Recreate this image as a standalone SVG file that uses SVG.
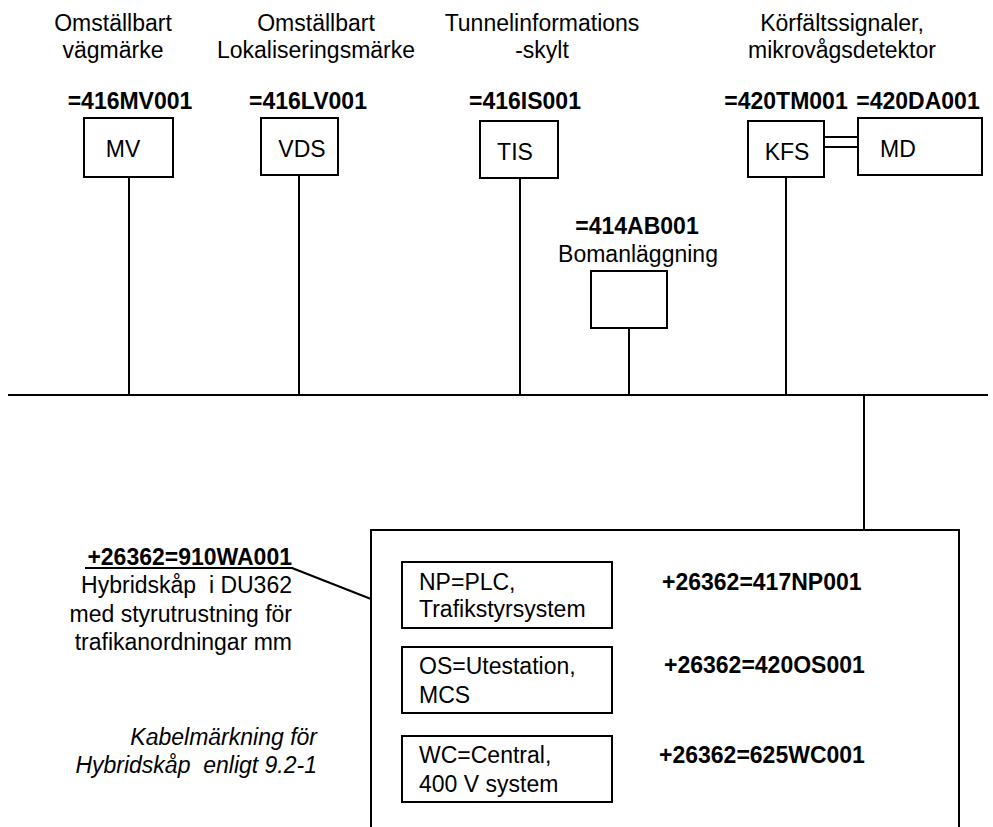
<svg xmlns="http://www.w3.org/2000/svg" width="993" height="827" viewBox="0 0 993 827">
<style>
text{font-family:"Liberation Sans",Arial,sans-serif;font-size:23px;fill:#000;white-space:pre}
.b{font-weight:bold}
.c{text-anchor:middle}
.r{text-anchor:end}
.i{font-style:italic}
.box{fill:#fff;stroke:#000;stroke-width:2}
.ln{stroke:#000;stroke-width:2;fill:none}
</style>
<rect width="993" height="827" fill="#fff"/>
<g id="connectors">
<line class="ln" x1="8" y1="395" x2="988" y2="395"/>
<line class="ln" x1="129" y1="177" x2="129" y2="395"/>
<line class="ln" x1="299" y1="175" x2="299" y2="395"/>
<line class="ln" x1="520" y1="178" x2="520" y2="395"/>
<line class="ln" x1="629" y1="328" x2="629" y2="395"/>
<line class="ln" x1="786" y1="177" x2="786" y2="395"/>
<line class="ln" x1="864" y1="395" x2="864" y2="530"/>
<line class="ln" x1="820" y1="137" x2="858" y2="137"/>
<line class="ln" x1="820" y1="147" x2="858" y2="147"/>
<line class="ln" x1="292" y1="568" x2="371" y2="599"/>
</g>
<g id="mv">
<text class="c" x="113" y="31">Omställbart</text>
<text class="c" x="113" y="58">vägmärke</text>
<text class="b c" x="130" y="109">=416MV001</text>
<rect class="box" x="84" y="118" width="89" height="59"/>
<text class="c" x="123" y="157">MV</text>
</g>
<g id="vds">
<text class="c" x="316" y="31">Omställbart</text>
<text class="c" x="316" y="58">Lokaliseringsmärke</text>
<text class="b c" x="308" y="109">=416LV001</text>
<rect class="box" x="261" y="118" width="77" height="57"/>
<text class="c" x="302" y="157">VDS</text>
</g>
<g id="tis">
<text class="c" x="542" y="31">Tunnelinformations</text>
<text class="c" x="542" y="58">-skylt</text>
<text class="b c" x="525" y="109">=416IS001</text>
<rect class="box" x="480" y="121" width="78" height="57"/>
<text class="c" x="515" y="160">TIS</text>
</g>
<g id="bom">
<text class="b c" x="637" y="234">=414AB001</text>
<text class="c" x="638" y="262">Bomanläggning</text>
<rect class="box" x="591" y="271" width="76" height="57"/>
</g>
<g id="kfs">
<text class="c" x="842" y="31">Körfältssignaler,</text>
<text class="c" x="842" y="58">mikrovågsdetektor</text>
<text class="b c" x="786" y="109">=420TM001</text>
<rect class="box" x="748" y="121" width="76" height="56"/>
<text class="c" x="787" y="160">KFS</text>
</g>
<g id="md">
<text class="b c" x="918" y="109">=420DA001</text>
<rect class="box" x="858" y="118" width="124" height="57"/>
<text class="c" x="898" y="157">MD</text>
</g>
<g id="cabinet">
<path class="ln" d="M371 827V530H959V827"/>
<text class="b r" x="292" y="565">+26362=910WA001</text>
<line class="ln" x1="85" y1="568" x2="293" y2="568"/>
<text class="r" x="292" y="593" xml:space="preserve">Hybridskåp  i DU362</text>
<text class="r" x="292" y="622">med styrutrustning för</text>
<text class="r" x="292" y="650">trafikanordningar mm</text>
</g>
<g id="np">
<rect class="box" x="402" y="562" width="210" height="66"/>
<text x="419" y="590">NP=PLC,</text>
<text x="419" y="617">Trafikstyrsystem</text>
<text class="b" x="662" y="590">+26362=417NP001</text>
</g>
<g id="os">
<rect class="box" x="402" y="647" width="210" height="66"/>
<text x="419" y="674">OS=Utestation,</text>
<text x="419" y="703">MCS</text>
<text class="b" x="664" y="673">+26362=420OS001</text>
</g>
<g id="wc">
<rect class="box" x="402" y="736" width="210" height="66"/>
<text x="419" y="763">WC=Central,</text>
<text x="419" y="792">400 V system</text>
<text class="b" x="659" y="763">+26362=625WC001</text>
</g>
<g id="note">
<text class="i r" x="317" y="745">Kabelmärkning för</text>
<text class="i r" x="317" y="773" xml:space="preserve">Hybridskåp  enligt 9.2-1</text>
</g>
</svg>
